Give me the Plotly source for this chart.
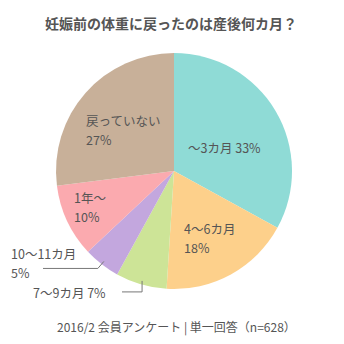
import math
import plotly.graph_objects as go

categories = ["～3カ月", "4～6カ月", "7～9カ月", "10～11カ月", "1年～", "戻っていない"]
values = [33, 18, 7, 5, 10, 27]
colors = ["#8fdbd6", "#fdd08b", "#cde497", "#c3a7de", "#fbaaaf", "#c8b099"]

title_text = "妊娠前の体重に戻ったのは産後何カ月？"
footer_text = "2016/2 会員アンケート | 単一回答（n=628）"

W = H = 344
CX, CY, R = 174, 171, 118  # pie center / radius in pixels
FONT = "Noto Sans CJK JP"
TXT = "#555555"
LS = 18.5  # line spacing in px

def px(x, y):
    return x / W, 1 - y / H

fig = go.Figure(go.Pie(
    labels=categories, values=values, sort=False, direction="clockwise",
    rotation=0, marker=dict(colors=colors, line=dict(width=0)),
    textinfo="none", hoverinfo="label+percent", showlegend=False,
    domain=dict(x=[(CX - R) / W, (CX + R) / W], y=[1 - (CY + R) / H, 1 - (CY - R) / H]),
))

ann = []

def label(x, y, lines, size=12.5):
    n = len(lines)
    for k, t in enumerate(lines):
        xx, yy = px(x, y + (k - (n - 1) / 2) * LS)
        ann.append(dict(x=xx, y=yy, xref="paper", yref="paper", xanchor="left", yanchor="middle",
                        text=t, showarrow=False, align="left", borderpad=0,
                        font=dict(family=FONT, size=size, color=TXT)))

# inside labels (left aligned); y = vertical center of the block
label(187, 147, [f"{categories[0]} {values[0]}%"])
label(183, 238, [categories[1], f"{values[1]}%"])
label(85, 130, [categories[5], f"{values[5]}%"])
label(73, 207, [categories[4], f"{values[4]}%"])

# outside labels with leader lines computed from slice mid-angles
total = sum(values)
cum = 0
mids = []
for v in values:
    mids.append((cum + v / 2) / total * 2 * math.pi)
    cum += v

def edge(i, f=0.97):
    a = mids[i]
    return CX + R * f * math.sin(a), CY - R * f * math.cos(a)

def path_shape(pts):
    return dict(type="path", xref="paper", yref="paper",
                path="M " + " L ".join(f"{px(a, b)[0]},{px(a, b)[1]}" for a, b in pts),
                line=dict(color="#777777", width=1))

shapes = []
# 10~11
ex, ey = edge(3)
shapes.append(path_shape([(ex, ey), (ex - 6, ey + 7), (43, ey + 7)]))
label(10, 263, [categories[3], f"{values[3]}%"])
# 7~9
ex, ey = edge(2)
shapes.append(path_shape([(ex, ey), (ex, ey + 11), (122, ey + 11)]))
label(32, 292, [f"{categories[2]} {values[2]}%"])

# title & footer
tx, ty = px(171, 23)
ann.append(dict(x=tx, y=ty, xref="paper", yref="paper", xanchor="center", yanchor="middle",
                text=f"<b>{title_text}</b>", showarrow=False,
                font=dict(family=FONT, size=14, color=TXT)))
fx, fy = px(176, 327)
ann.append(dict(x=fx, y=fy, xref="paper", yref="paper", xanchor="center", yanchor="middle",
                text=footer_text, showarrow=False,
                font=dict(family=FONT, size=12, color=TXT)))

fig.update_layout(width=W, height=H, margin=dict(l=0, r=0, t=0, b=0),
                  paper_bgcolor="white", plot_bgcolor="white",
                  annotations=ann, shapes=shapes)
fig.write_html("out.html")
